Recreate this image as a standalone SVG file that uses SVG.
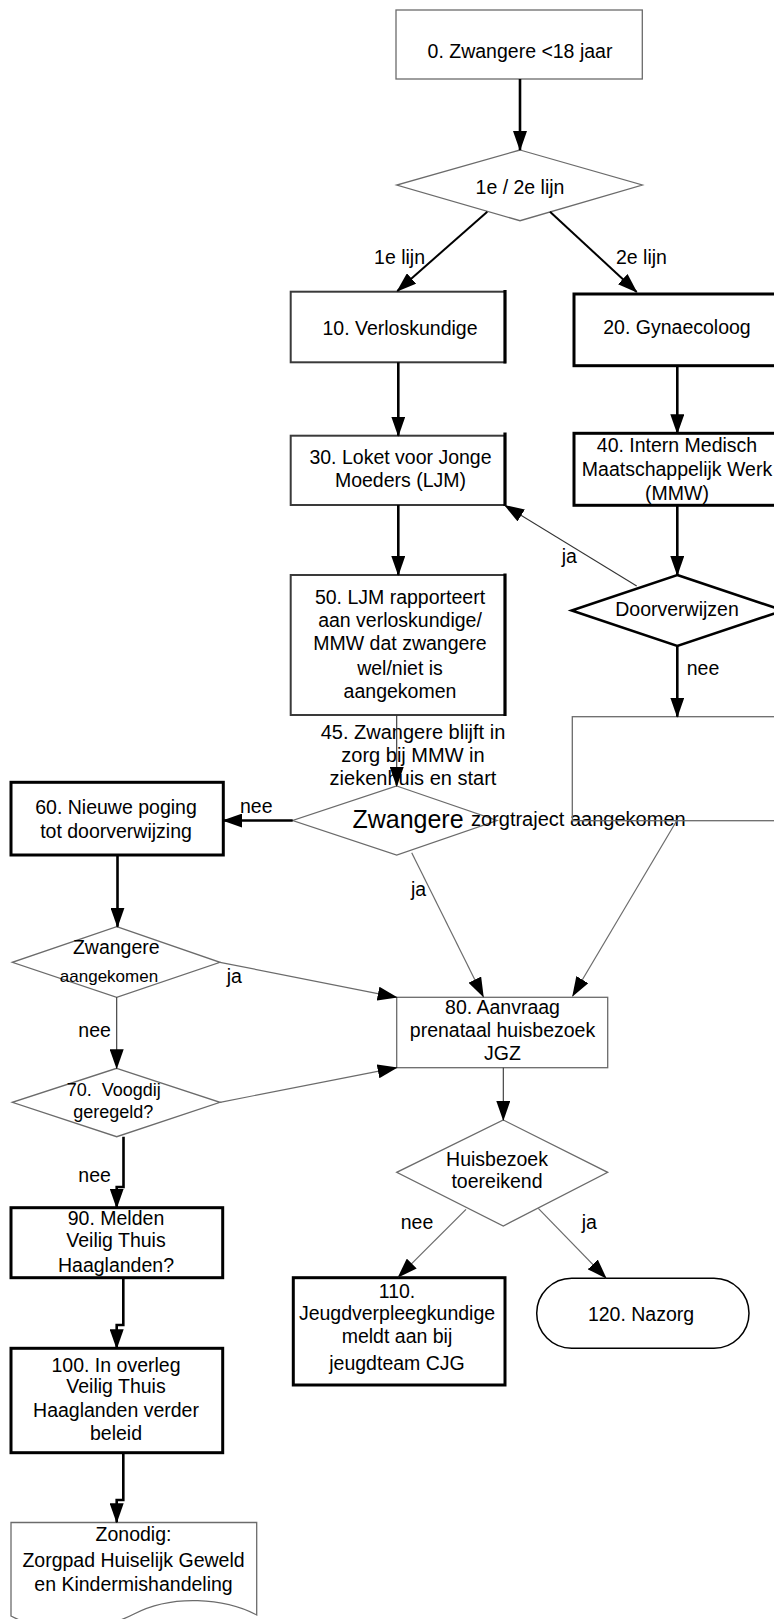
<svg xmlns="http://www.w3.org/2000/svg" width="774" height="1619" viewBox="0 0 774 1619">
<defs>
<marker id="ah" viewBox="0 0 20 14" markerWidth="20" markerHeight="14" refX="19" refY="7" orient="auto" markerUnits="userSpaceOnUse"><path d="M0,0 L20,7 L0,14 Z" fill="#000"/></marker>
</defs>
<style>
text{font-family:"Liberation Sans",Arial,sans-serif;font-size:19.5px;fill:#000}
.c{text-anchor:middle}
.e{text-anchor:end}
.thin{fill:#fff;stroke:#6b6b6b;stroke-width:1.3}
.thick{fill:#fff;stroke:#000;stroke-width:3}
.mixed{fill:#fff;stroke:#3a3a3a;stroke-width:2}
.edge{stroke:#000;stroke-width:3.2;fill:none}
.k{fill:none;stroke:#000;stroke-width:2.6;marker-end:url(#ah)}
.k2{fill:none;stroke:#000;stroke-width:2;marker-end:url(#ah)}
.g{fill:none;stroke:#6b6b6b;stroke-width:1.2;marker-end:url(#ah)}
.d{fill:none;stroke:#333;stroke-width:1.1;marker-end:url(#ah)}
</style>
<rect width="774" height="1619" fill="#fff"/>
<g id="n0"><rect class="thin" x="396" y="10" width="246.3" height="69"/><text class="c" x="520" y="58">0. Zwangere &lt;18 jaar</text></g>
<g id="d1"><polygon class="thin" points="520,150 642.3,185 520,220.7 396.7,185"/><text class="c" x="520" y="194.3">1e / 2e lijn</text></g>
<g id="n10"><rect class="mixed" x="290.7" y="291.7" width="214.3" height="70.6"/><line class="edge" x1="505" y1="290" x2="505" y2="363.5"/><text class="c" x="400" y="334.5">10. Verloskundige</text></g>
<g id="n20"><rect class="thick" x="574" y="294" width="210" height="71.7"/><text class="c" x="677" y="334.3">20. Gynaecoloog</text></g>
<g id="n30"><rect class="mixed" x="290.7" y="435.7" width="214.3" height="69.3"/><line class="edge" x1="505" y1="432.5" x2="505" y2="506"/><text class="c" x="400.5" y="464">30. Loket voor Jonge</text><text class="c" x="400.5" y="486.7">Moeders (LJM)</text></g>
<g id="n40"><rect class="thick" x="574" y="433.3" width="210" height="72"/><text class="c" x="677" y="452.3">40. Intern Medisch</text><text class="c" x="677" y="475.7">Maatschappelijk Werk</text><text class="c" x="677" y="500">(MMW)</text></g>
<g id="n50"><rect class="mixed" x="290.7" y="575" width="214.3" height="140"/><line class="edge" x1="505" y1="573.5" x2="505" y2="716"/><text class="c" x="400" y="604">50. LJM rapporteert</text><text class="c" x="400" y="626.7">aan verloskundige/</text><text class="c" x="400" y="650">MMW dat zwangere</text><text class="c" x="400" y="675">wel/niet is</text><text class="c" x="400" y="698.3">aangekomen</text></g>
<g id="dDoor"><polygon fill="#fff" stroke="#000" stroke-width="2.6" points="677.3,575 783,610.5 677.3,646 571.7,610.5"/><text class="c" x="677" y="615.5">Doorverwijzen</text></g>
<g id="dZw1"><polygon class="thin" points="396.7,786 497,820.5 396.7,855 292.7,820.5"/><text class="c" x="408" y="827.7" style="font-size:25px">Zwangere</text><text x="570" y="825.7" style="font-size:20px">aangekomen</text></g>
<g id="n45"><rect fill="none" stroke="#6b6b6b" stroke-width="1.3" x="572.3" y="716.7" width="220" height="104"/><text class="c" x="413" y="739.3" style="font-size:20px">45. Zwangere blijft in</text><text class="c" x="413" y="761.7" style="font-size:20px">zorg bij MMW in</text><text class="c" x="413" y="785" style="font-size:20px">ziekenhuis en start</text><text x="471" y="825.7" style="font-size:20px">zorgtraject</text></g>
<g id="n60"><rect class="thick" x="11" y="782.3" width="212.3" height="72.7"/><text class="c" x="116" y="814">60. Nieuwe poging</text><text class="c" x="116" y="837.7">tot doorverwijzing</text></g>
<g id="dZw2"><polygon class="thin" points="116.7,926.7 220,962.3 116.7,997.3 12.3,962.3"/><text class="c" x="116.3" y="954">Zwangere</text><text class="c" x="109" y="981.7" style="font-size:17px">aangekomen</text></g>
<g id="d70"><polygon class="thin" points="116.7,1068.3 220,1102.3 116.7,1136.7 12.3,1102.3"/><text class="c" x="113.8" y="1096" style="font-size:18px;white-space:pre">70.  Voogdij</text><text class="c" x="113.3" y="1118.3" style="font-size:18px">geregeld?</text></g>
<g id="n80"><rect class="thin" x="396.7" y="997.3" width="211" height="70.4"/><text class="c" x="502.5" y="1014">80. Aanvraag</text><text class="c" x="502.5" y="1036.7">prenataal huisbezoek</text><text class="c" x="502.5" y="1060">JGZ</text></g>
<g id="dHuis"><polygon class="thin" points="503.3,1120 607.7,1172.3 503.3,1226 396.7,1172.3"/><text class="c" x="497" y="1166">Huisbezoek</text><text class="c" x="497" y="1188.3">toereikend</text></g>
<g id="n90"><rect class="thick" x="11" y="1207.7" width="211.7" height="70"/><text class="c" x="116" y="1225">90. Melden</text><text class="c" x="116" y="1246.7">Veilig Thuis</text><text class="c" x="116" y="1271.7">Haaglanden?</text></g>
<g id="n110"><rect class="thick" x="293.3" y="1277.7" width="211.7" height="107.3"/><text class="c" x="397" y="1298.3">110.</text><text class="c" x="397" y="1320">Jeugdverpleegkundige</text><text class="c" x="397" y="1342.5">meldt aan bij</text><text class="c" x="397" y="1370">jeugdteam CJG</text></g>
<g id="n120"><rect fill="#fff" stroke="#000" stroke-width="1.5" x="536.7" y="1278.3" width="212.3" height="70" rx="35" ry="35"/><text class="c" x="641" y="1321">120. Nazorg</text></g>
<g id="n100"><rect class="thick" x="11" y="1348.3" width="211.7" height="104.4"/><text class="c" x="116" y="1371.7">100. In overleg</text><text class="c" x="116" y="1393.3">Veilig Thuis</text><text class="c" x="116" y="1416.7">Haaglanden verder</text><text class="c" x="116" y="1440">beleid</text></g>
<g id="nDoc"><path class="thin" d="M11,1522.5 H256.7 V1615 C225,1598 172,1594 134,1614 C95,1634 45,1634 11,1616 Z"/><text class="c" x="133.5" y="1540.7">Zonodig:</text><text class="c" x="133.5" y="1566.7">Zorgpad Huiselijk Geweld</text><text class="c" x="133.5" y="1590.7">en Kindermishandeling</text></g>
<g id="connectors">
<path class="k" d="M520,79 V150"/>
<path class="k2" d="M487.3,211.7 L397.3,291"/>
<path class="k2" d="M550,211.7 L636.7,292"/>
<path class="k" d="M398.3,362.3 V435.7"/>
<path class="k" d="M677.3,365.7 V433.3"/>
<path class="k" d="M398.3,505 V575"/>
<path class="k" d="M677.3,505.3 V575"/>
<path class="d" d="M636.7,586 L505,505.5"/>
<path class="k" d="M677.3,646 V716.7"/>
<path class="d" d="M396.7,715 V786"/>
<path class="k" d="M292.7,820.5 H223.3"/>
<path class="g" d="M411.7,852.7 L483.3,996.7"/>
<path class="g" d="M676.7,820.7 L572.7,996"/>
<path class="k" d="M117.5,855 V926.7"/>
<path class="g" d="M220,962.3 L396.7,997.3"/>
<path class="d" d="M116.7,997.3 V1068.3"/>
<path class="g" d="M220,1102.3 L396.7,1067.7"/>
<path class="k" d="M123.5,1136.7 V1187 H116.7 V1207.7"/>
<path class="k" d="M123.3,1277.7 V1325 H116.7 V1348.3"/>
<path class="k" d="M123.3,1452.7 V1500 H116.7 V1522.3"/>
<path class="d" d="M503.3,1067.7 V1120"/>
<path class="g" d="M466,1209.3 L398.3,1277"/>
<path class="g" d="M538.3,1208.3 L606,1278"/>
<text class="e" x="425" y="264">1e lijn</text>
<text x="616" y="264">2e lijn</text>
<text x="561.7" y="563.3">ja</text>
<text x="686.7" y="675">nee</text>
<text x="240" y="813.3">nee</text>
<text x="411" y="895.5">ja</text>
<text x="226.7" y="983.3">ja</text>
<text x="78.3" y="1036.7">nee</text>
<text x="78.3" y="1181.7">nee</text>
<text x="400.7" y="1229.3">nee</text>
<text x="581.7" y="1229.3">ja</text>
</g>
</svg>
